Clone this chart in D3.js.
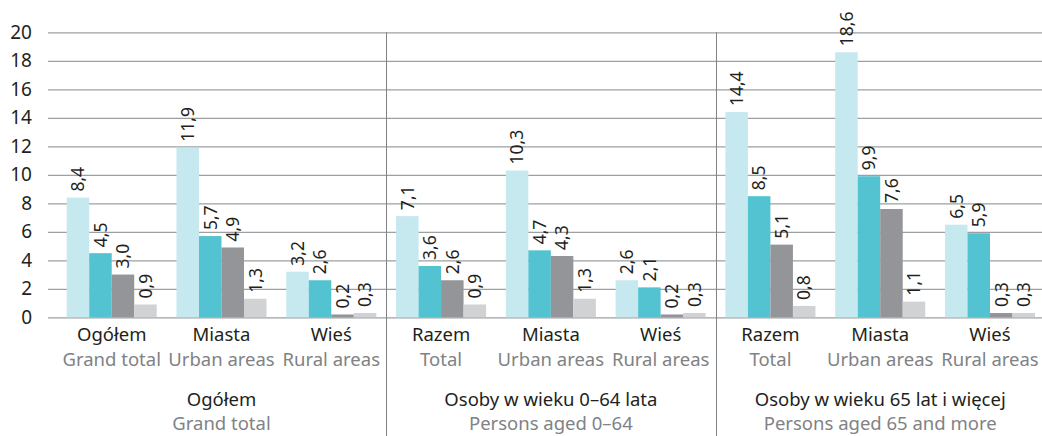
<!DOCTYPE html>
<html>
<head>
<meta charset="utf-8">
<script src="https://cdn.jsdelivr.net/npm/d3@7"></script>
<style>
  body { margin: 0; background: #fff; }
  svg text { font-family: "Noto Sans", sans-serif; }
</style>
</head>
<body>
<div id="chart"></div>
<script>
// categories (PL / EN) and the three groups
const categories = ["Ogółem", "Miasta", "Wieś", "Razem", "Miasta", "Wieś", "Razem", "Miasta", "Wieś"];
const categoriesEn = ["Grand total", "Urban areas", "Rural areas", "Total", "Urban areas", "Rural areas", "Total", "Urban areas", "Rural areas"];
const groups = ["Ogółem", "Osoby w wieku 0–64 lata", "Osoby w wieku 65 lat i więcej"];
const groupsEn = ["Grand total", "Persons aged 0–64", "Persons aged 65 and more"];

// four series per category
const series1 = [8.4, 11.9, 3.2, 7.1, 10.3, 2.6, 14.4, 18.6, 6.5];
const series2 = [4.5, 5.7, 2.6, 3.6, 4.7, 2.1, 8.5, 9.9, 5.9];
const series3 = [3.0, 4.9, 0.2, 2.6, 4.3, 0.2, 5.1, 7.6, 0.3];
const series4 = [0.9, 1.3, 0.3, 0.9, 1.3, 0.3, 0.8, 1.1, 0.3];
const yTicks = [0, 2, 4, 6, 8, 10, 12, 14, 16, 18, 20];

const colors = ["#c6e8ef", "#53c3d1", "#939598", "#d1d2d4"];
const allSeries = [series1, series2, series3, series4];

const width = 1042;
const height = 436;

const svg = d3.select("#chart")
    .append("svg")
    .attr("width", width)
    .attr("height", height);

const idx = d3.range(categories.length);

const x = d3.scaleBand()
    .domain(idx)
    .range([66.7, 1035])
    .paddingInner(0.18)
    .paddingOuter(0);

const xs = d3.scaleBand()
    .domain(d3.range(allSeries.length))
    .range([0, x.bandwidth()]);

const y = d3.scaleLinear()
    .domain([0, 20])
    .range([317.3, 32.3]);

// grid + y labels
const yAxis = svg.append("g")
    .attr("transform", "translate(48,0)")
    .call(d3.axisLeft(y).tickValues(yTicks).tickSize(-(width - 48)).tickPadding(16));
yAxis.select(".domain").remove();
yAxis.selectAll("line").attr("stroke", "#9d9fa2").attr("stroke-width", 1.3);
yAxis.selectAll("text")
    .attr("fill", "#231f20")
    .style("font-size", "19px");

// group separators
const seps = [2, 5].map(i => (x(i) + x.bandwidth() + x(i + 1)) / 2);
svg.selectAll(".sep")
    .data(seps)
    .enter()
    .append("line")
    .attr("class", "sep")
    .attr("x1", d => Math.round(d) + 0.5)
    .attr("x2", d => Math.round(d) + 0.5)
    .attr("y1", y(20))
    .attr("y2", height)
    .attr("stroke", "#808285")
    .attr("stroke-width", 1);

// bars
const cells = [];
idx.forEach(i => allSeries.forEach((s, j) => cells.push({ i: i, j: j, v: s[i] })));

const bars = svg.append("g");
bars.selectAll("rect")
    .data(cells)
    .enter()
    .append("rect")
    .attr("x", d => x(d.i) + xs(d.j))
    .attr("width", xs.bandwidth())
    .attr("y", d => y(d.v))
    .attr("height", d => y(0) - y(d.v))
    .attr("fill", d => colors[d.j]);

// value labels
bars.selectAll("text")
    .data(cells)
    .enter()
    .append("text")
    .attr("transform", d => "translate(" + (x(d.i) + xs(d.j) + xs.bandwidth() / 2) + "," + (y(d.v) - 6) + ") rotate(-90)")
    .attr("dy", "0.36em")
    .attr("fill", "#231f20")
    .style("font-size", "17.5px")
    .text(d => d.v.toFixed(1).replace(".", ","));

// category labels
const cat = svg.append("g");
cat.selectAll(".pl")
    .data(idx)
    .enter()
    .append("text")
    .attr("class", "pl")
    .attr("x", d => x(d) + x.bandwidth() / 2)
    .attr("y", 341)
    .attr("text-anchor", "middle")
    .attr("fill", "#231f20")
    .style("font-size", "18.5px")
    .text(d => categories[d]);
cat.selectAll(".en")
    .data(idx)
    .enter()
    .append("text")
    .attr("class", "en")
    .attr("x", d => x(d) + x.bandwidth() / 2)
    .attr("y", 366)
    .attr("text-anchor", "middle")
    .attr("fill", "#808285")
    .style("font-size", "18.5px")
    .text(d => categoriesEn[d]);

// group labels
const grp = svg.append("g");
grp.selectAll(".gpl")
    .data(groups)
    .enter()
    .append("text")
    .attr("class", "gpl")
    .attr("x", (d, i) => x(i * 3 + 1) + x.bandwidth() / 2)
    .attr("y", 406)
    .attr("text-anchor", "middle")
    .attr("fill", "#231f20")
    .style("font-size", "18.5px")
    .text(d => d);
grp.selectAll(".gen")
    .data(groupsEn)
    .enter()
    .append("text")
    .attr("class", "gen")
    .attr("x", (d, i) => x(i * 3 + 1) + x.bandwidth() / 2)
    .attr("y", 430)
    .attr("text-anchor", "middle")
    .attr("fill", "#808285")
    .style("font-size", "18.5px")
    .text(d => d);
</script>
</body>
</html>
